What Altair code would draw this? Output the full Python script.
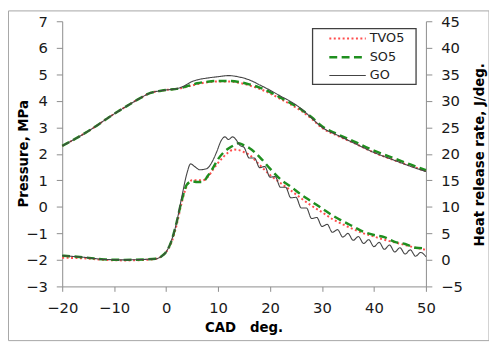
import altair as alt
import pandas as pd

series = ["TVO5", "SO5", "GO"]

# Pressure, MPa (left axis)
p_x = [-20, -17, -14, -11, -8, -5, -3, -1, 0, 1, 2, 3, 4, 5, 6, 8, 10, 12, 14, 16, 18, 20,
       22, 24, 26, 28, 30, 33, 36, 40, 44, 47, 50]
p_go = [2.3, 2.62, 2.98, 3.38, 3.75, 4.1, 4.3, 4.38, 4.41, 4.43, 4.46, 4.52, 4.62, 4.73, 4.79,
        4.86, 4.91, 4.95, 4.9, 4.79, 4.6, 4.4, 4.18, 3.97, 3.7, 3.35, 3.0, 2.7, 2.42, 2.05,
        1.75, 1.53, 1.33]
p_tvo5 = [2.3, 2.62, 2.98, 3.38, 3.75, 4.1, 4.3, 4.38, 4.41, 4.43, 4.45, 4.48, 4.53, 4.58, 4.63,
          4.7, 4.73, 4.73, 4.68, 4.58, 4.45, 4.28, 4.07, 3.86, 3.62, 3.32, 2.98, 2.68, 2.42, 2.05,
          1.75, 1.55, 1.35]
p_so5 = [2.3, 2.62, 2.98, 3.38, 3.75, 4.1, 4.3, 4.38, 4.41, 4.43, 4.45, 4.49, 4.55, 4.6, 4.66,
         4.72, 4.75, 4.75, 4.71, 4.62, 4.5, 4.33, 4.12, 3.91, 3.67, 3.38, 3.04, 2.74, 2.48, 2.12,
         1.82, 1.6, 1.38]

# Heat release rate, J/deg. (right axis)
h_x = [-20, -16, -12, -8, -4, -2, -1, 0, 1, 2, 3, 4, 5, 6, 7, 8, 9, 10, 11, 12, 13, 14, 15,
       16, 18, 20, 22, 24, 26, 28, 30, 32, 34, 36, 38, 40, 42, 44, 46, 48, 50]
h_tvo5 = [0.4, 0.3, 0.0, -0.1, 0.0, 0.2, 0.6, 1.5, 3.2, 6.5, 10.8, 14.0, 15.0, 15.0, 15.0, 15.6,
          17.0, 18.3, 19.4, 20.3, 20.8, 20.7, 20.3, 19.8, 17.9, 16.0, 14.5, 13.1, 11.6, 10.2, 9.0,
          7.7, 6.7, 5.8, 5.0, 4.4, 3.8, 3.3, 2.8, 2.3, 1.9]
h_so5 = [0.8, 0.5, 0.1, 0.0, 0.1, 0.2, 0.6, 1.5, 3.5, 7.0, 11.2, 14.2, 14.8, 14.7, 14.7, 15.8,
         17.3, 19.0, 20.2, 21.0, 21.6, 22.0, 21.6, 21.1, 19.4, 17.2, 15.2, 13.8, 12.3, 11.0, 9.7,
         8.4, 7.3, 6.3, 5.3, 4.7, 4.3, 3.4, 3.0, 2.3, 2.2]
g_x = [-20, -16, -12, -8, -4, -2, -1, 0, 1, 2, 3, 4, 4.7, 5.5, 6.5, 7.8, 8.8, 9.7, 10.6, 11.3,
       12, 12.8, 13.5, 14.2, 15, 16, 17, 18, 19, 20, 21, 22, 23, 24, 25, 26, 27, 28, 29, 30, 31,
       32, 33, 34, 35, 36, 37, 38, 39, 40, 41, 42, 43, 44, 45, 46, 47, 48, 49, 50]
h_go = [0.8, 0.5, 0.1, 0.0, 0.1, 0.2, 0.6, 1.5, 3.6, 7.0, 11.8, 16.3, 18.1, 17.6, 17.0, 17.2,
        18.4, 20.3, 22.5, 23.2, 22.7, 23.2, 22.6, 21.6, 21.2, 19.2, 19.2, 17.4, 17.6, 15.6, 15.7,
        13.7, 13.7, 11.7, 11.8, 9.8, 9.8, 7.8, 8.0, 6.3, 6.7, 5.2, 5.7, 4.3, 5.0, 3.7, 4.4, 3.1,
        3.8, 2.5, 3.3, 2.0, 2.8, 1.5, 2.3, 1.1, 1.9, 0.7, 1.4, 0.6]

rows_p = []
for name, vals in (("TVO5", p_tvo5), ("SO5", p_so5), ("GO", p_go)):
    rows_p += [{"cad": x, "p": v, "fuel": name} for x, v in zip(p_x, vals)]
rows_h = []
for name, xs, vals in (("TVO5", h_x, h_tvo5), ("SO5", h_x, h_so5), ("GO", g_x, h_go)):
    rows_h += [{"cad": x, "h": v, "fuel": name} for x, v in zip(xs, vals)]
df_p = pd.DataFrame(rows_p)
df_h = pd.DataFrame(rows_h)
one = pd.DataFrame({"k": [0]})

FONT = "DejaVu Sans"
LEG = dict(title=None, orient="none", legendX=279, legendY=7, symbolType="M-2,0H2",
           symbolSize=342, labelFontSize=13, labelFont=FONT, labelColor="#222",
           labelOffset=12, rowPadding=1, padding=0)
color = alt.Color("fuel:N", scale=alt.Scale(domain=series, range=["#ff4d4d", "#1f8f1f", "#444444"]),
                  legend=alt.Legend(**LEG))
dash = alt.StrokeDash("fuel:N", scale=alt.Scale(domain=series, range=[[2, 2.5], [8, 4.5], [1, 0]]),
                      legend=alt.Legend(**LEG))
width = alt.StrokeWidth("fuel:N", scale=alt.Scale(type="ordinal", domain=series, range=[2, 2.5, 1.1]),
                        legend=alt.Legend(**LEG))

xenc = alt.X("cad:Q", scale=alt.Scale(domain=[-20, 50], nice=False),
             axis=alt.Axis(values=list(range(-20, 51, 10)), title="CAD\u00a0\u00a0\u00a0deg.",
                           titleX=184, titleY=42, titleBaseline="middle", labelFlush=False,
                           labelPadding=9, tickSize=5))

frame = alt.Chart(one).mark_rect(fillOpacity=0, stroke="#a6a6a6", strokeWidth=1).encode(
    x=alt.value(-54.5), x2=alt.value(433), y=alt.value(-10.5), y2=alt.value(324))
legbox = alt.Chart(one).mark_rect(fill="white", stroke="#404040", strokeWidth=1.3).encode(
    x=alt.value(254), x2=alt.value(359), y=alt.value(7.5), y2=alt.value(64))

pres = alt.Chart(df_p).mark_line(interpolate="monotone").encode(
    x=xenc,
    y=alt.Y("p:Q", scale=alt.Scale(domain=[-3, 7], nice=False),
            axis=alt.Axis(values=list(range(-3, 8)), title="Pressure, MPa", orient="left",
                          titleX=-39, titleY=134, titleAngle=270, titleBaseline="middle",
                          titleAlign="center", labelPadding=9, tickSize=6, labelFlush=False)),
    color=color, strokeDash=dash, strokeWidth=width,
    order=alt.Order("cad:Q"),
)
hrr = alt.Chart(df_h).mark_line(interpolate="monotone").encode(
    x=xenc,
    y=alt.Y("h:Q", scale=alt.Scale(domain=[-5, 45], nice=False),
            axis=alt.Axis(values=list(range(-5, 46, 5)), title="Heat release rate, J/deg.",
                          orient="right", titleX=54, titleY=135, titleAngle=270,
                          titleBaseline="middle", titleAlign="center", labelPadding=9, tickSize=6,
                          labelFlush=False)),
    color=color, strokeDash=dash, strokeWidth=width,
    order=alt.Order("cad:Q"),
)

chart = alt.layer(frame, legbox, pres, hrr).resolve_scale(y="independent").properties(
    width=369, height=269,
    padding={"left": 55, "top": 11, "right": 64, "bottom": 57},
    autosize=alt.AutoSizeParams(type="none"),
).configure(background="white").configure_view(stroke=None).configure_axis(
    grid=False, domainColor="#8c8c8c", tickColor="#8c8c8c", labelFont=FONT, labelFontSize=15,
    labelColor="#1a1a1a", titleFont=FONT, titleFontSize=13.5, titleFontWeight="bold",
    titleColor="#000",
)

chart.save("out.html", embed_options={"renderer": "svg", "actions": False})
